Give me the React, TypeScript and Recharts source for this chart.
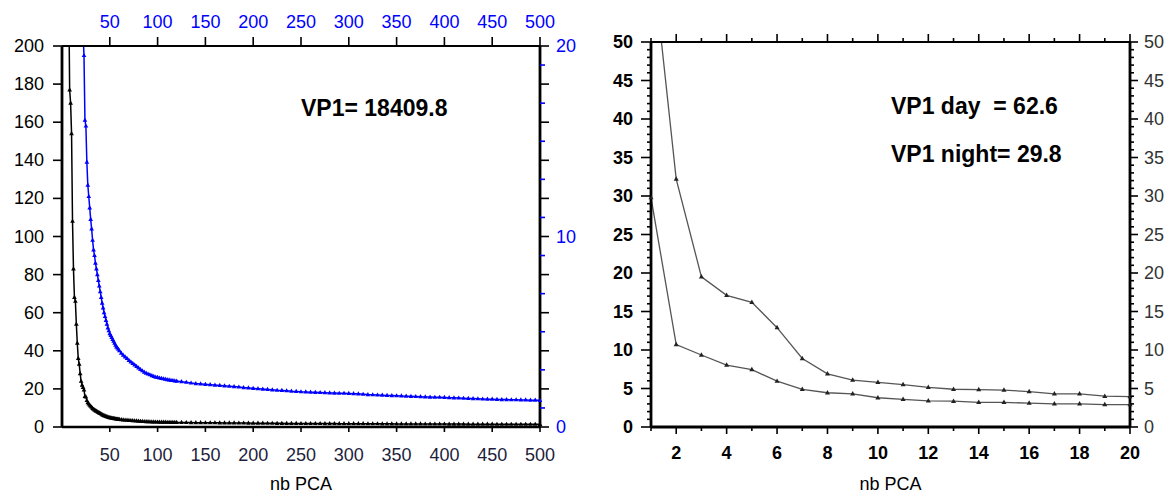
import React from "react";
import { LineChart, Line, XAxis, YAxis } from "recharts";

// Eigenvalue spectrum (VP) against PCA rank
const pcaRank = [
  1, 2, 3, 4, 5, 6, 7, 8, 9, 10, 11, 12, 13, 14, 15, 16, 17, 18, 19, 20,
  21, 22, 23, 24, 25, 26, 27, 28, 29, 30, 31, 32, 33, 34, 35, 36, 37, 38, 39, 40,
  41, 42, 43, 44, 45, 46, 47, 48, 49, 50, 51, 52, 53, 54, 55, 56, 57, 58, 59, 60,
  62, 64, 66, 68, 70, 72, 74, 76, 78, 80, 82, 84, 86, 88, 90, 92, 94, 96, 98, 100,
  102, 104, 106, 108, 110, 112, 114, 116, 118, 120,
  125, 130, 135, 140, 145, 150, 155, 160, 165, 170, 175, 180, 185, 190, 195, 200,
  205, 210, 215, 220, 225, 230, 235, 240, 245, 250, 255, 260, 265, 270, 275, 280,
  285, 290, 295, 300, 305, 310, 315, 320, 325, 330, 335, 340, 345, 350, 355, 360,
  365, 370, 375, 380, 385, 390, 395, 400, 405, 410, 415, 420, 425, 430, 435, 440,
  445, 450, 455, 460, 465, 470, 475, 480, 485, 490, 495, 500,
];

const eigenvalues = [
  18409.8, 2600, 1200, 700, 450, 320, 230, 177, 170, 154, 108, 83, 68, 66, 54, 44, 36, 33, 28, 24,
  22, 20.8, 19.5, 16.1, 15.8, 13.9, 12.7, 12.1, 11.5, 10.9, 10.4, 9.8, 9.3, 9.0, 8.6, 8.3, 8.0, 7.7, 7.4, 7.1,
  6.8, 6.5, 6.25, 6.0, 5.8, 5.6, 5.4, 5.2, 5.05, 4.9, 4.8, 4.7, 4.6, 4.5, 4.4, 4.3, 4.2, 4.15, 4.08, 4.0,
  3.88, 3.77, 3.68, 3.6, 3.5, 3.42, 3.34, 3.26, 3.18, 3.1, 3.02, 2.95, 2.88, 2.83, 2.78, 2.74, 2.7, 2.66, 2.62, 2.6,
  2.57, 2.55, 2.53, 2.51, 2.49, 2.47, 2.45, 2.44, 2.42, 2.41,
  2.38, 2.35, 2.31, 2.28, 2.26, 2.24, 2.22, 2.2, 2.18, 2.16, 2.14, 2.12, 2.1, 2.07, 2.05, 2.03,
  2.01, 1.99, 1.97, 1.95, 1.93, 1.92, 1.9, 1.88, 1.87, 1.85, 1.84, 1.83, 1.82, 1.81, 1.8, 1.79,
  1.78, 1.77, 1.77, 1.76, 1.75, 1.74, 1.72, 1.7, 1.69, 1.68, 1.67, 1.66, 1.65, 1.64, 1.63, 1.62,
  1.61, 1.6, 1.59, 1.58, 1.57, 1.56, 1.56, 1.55, 1.54, 1.53, 1.52, 1.51, 1.5, 1.49, 1.48, 1.47,
  1.46, 1.46, 1.45, 1.44, 1.44, 1.43, 1.43, 1.42, 1.42, 1.41, 1.41, 1.4,
];

// First 20 components, day vs night
const rankShort = [1, 2, 3, 4, 5, 6, 7, 8, 9, 10, 11, 12, 13, 14, 15, 16, 17, 18, 19, 20];
const vpDay = [62.6, 32.2, 19.5, 17.1, 16.2, 12.9, 8.9, 6.9, 6.1, 5.8, 5.5, 5.15, 4.9, 4.85, 4.8, 4.6, 4.3, 4.3, 4.0, 3.95];
const vpNight = [29.8, 10.7, 9.35, 8.05, 7.45, 5.95, 4.9, 4.45, 4.3, 3.8, 3.6, 3.4, 3.35, 3.2, 3.2, 3.1, 3.0, 3.0, 2.9, 2.9];

// Axis ticks
const pcaTicks = [50, 100, 150, 200, 250, 300, 350, 400, 450, 500];
const vpTicks = [0, 20, 40, 60, 80, 100, 120, 140, 160, 180, 200];
const zoomTicks = [0, 1, 2, 3, 4, 5, 6, 7, 8, 9, 10, 11, 12, 13, 14, 15, 16, 17, 18, 19, 20];
const shortVpTicks = Array.from({ length: 51 }, (_, i) => i);

const spectrum = pcaRank.map((n, i) => ({ n, vp: eigenvalues[i] }));
const dayNight = rankShort.map((n, i) => ({ n, day: vpDay[i], night: vpNight[i] }));

const FONT = "'Liberation Sans', Arial, Helvetica, sans-serif";
const BLUE = "#0000ff";

type Side = "left" | "right" | "top" | "bottom";
type TickSpec = {
  side: Side;
  len: (v: number) => number;
  label: (v: number) => string;
  tickColor?: (v: number) => string;
  fill?: string;
  gap: number;
  weight?: string;
  size?: number;
};

// tick line + label drawn from the axis line position (tickSize/tickMargin = 0)
const axisTick = (s: TickSpec) => (props: any) => {
  const { x, y, payload, index } = props;
  const v = payload.value as number;
  const len = s.len(v);
  const text = s.label(v);
  const stroke = s.tickColor ? s.tickColor(v) : "#000";
  let lx1 = x, ly1 = y, lx2 = x, ly2 = y;
  let tx = x, ty = y;
  let anchor: "start" | "middle" | "end" = "middle";
  if (s.side === "left") {
    lx1 = x - len;
    tx = x - len - s.gap;
    anchor = "end";
  } else if (s.side === "right") {
    lx2 = x + len;
    tx = x + len + s.gap;
    anchor = "start";
  } else if (s.side === "top") {
    ly1 = y - len;
    ty = y - len - s.gap;
  } else {
    ly2 = y + len;
    ty = y + len + s.gap;
  }
  return (
    <g key={`t-${index}`}>
      {len > 0 && <line x1={lx1} y1={ly1} x2={lx2} y2={ly2} stroke={stroke} strokeWidth={1.6} />}
      {text !== "" && (
        <text
          x={tx}
          y={ty}
          textAnchor={anchor}
          dominantBaseline="central"
          fill={s.fill ?? "#000"}
          fontFamily={FONT}
          fontSize={s.size ?? 18}
          fontWeight={s.weight ?? "normal"}
        >
          {text}
        </text>
      )}
    </g>
  );
};

const triangle = (color: string, r: number) => (props: any) => {
  const { cx, cy, index } = props;
  if (cx == null || cy == null) return <g key={`d-${index}`} />;
  return (
    <path
      key={`d-${index}`}
      d={`M${cx},${cy - r} L${cx + r * 0.9},${cy + r * 0.6} L${cx - r * 0.9},${cy + r * 0.6} Z`}
      fill={color}
    />
  );
};

const none = () => "";
const str = (v: number) => String(v);

function SpectrumChart() {
  return (
    <LineChart
      width={590}
      height={494}
      data={spectrum}
      margin={{ top: 8, right: 10, bottom: 0, left: 12 }}
    >
      <XAxis
        xAxisId="bottom"
        type="number"
        dataKey="n"
        domain={[0, 500]}
        ticks={pcaTicks}
        interval={0}
        height={67}
        tickSize={0}
        tickMargin={0}
        tickLine={false}
        axisLine={{ stroke: "#000", strokeWidth: 2.6 }}
        tick={axisTick({ side: "bottom", len: () => 5, label: str, gap: 23, fill: "#1e1e3c" })}
        label={{ value: "nb PCA", position: "insideBottom", offset: 4, fill: "#000", fontFamily: FONT, fontSize: 18 }}
      />
      <XAxis
        xAxisId="top"
        orientation="top"
        type="number"
        dataKey="n"
        domain={[0, 500]}
        ticks={pcaTicks}
        interval={0}
        height={38}
        tickSize={0}
        tickMargin={0}
        tickLine={false}
        axisLine={{ stroke: "#000", strokeWidth: 2 }}
        tick={axisTick({ side: "top", len: () => 9, label: str, gap: 15, fill: BLUE })}
      />
      <YAxis
        yAxisId="left"
        domain={[0, 200]}
        allowDataOverflow
        ticks={vpTicks}
        interval={0}
        width={50}
        tickSize={0}
        tickMargin={0}
        tickLine={false}
        axisLine={{ stroke: "#000", strokeWidth: 2.8 }}
        tick={axisTick({ side: "left", len: () => 9, label: str, gap: 9 })}
      />
      <YAxis
        yAxisId="right"
        orientation="right"
        domain={[0, 20]}
        allowDataOverflow
        ticks={zoomTicks}
        interval={0}
        width={40}
        tickSize={0}
        tickMargin={0}
        tickLine={false}
        axisLine={{ stroke: "#000", strokeWidth: 2.8 }}
        tick={axisTick({
          side: "right",
          len: (v) => (v % 2 === 0 ? 9 : 5),
          tickColor: (v) => (v % 2 === 0 ? "#000" : BLUE),
          label: (v) => (v % 10 === 0 ? String(v) : ""),
          gap: 7,
          fill: BLUE,
        })}
      />
      <Line
        xAxisId="top"
        yAxisId="right"
        dataKey="vp"
        stroke={BLUE}
        strokeWidth={1.5}
        dot={triangle(BLUE, 2.6)}
        activeDot={false}
        isAnimationActive={false}
      />
      <Line
        xAxisId="bottom"
        yAxisId="left"
        dataKey="vp"
        stroke="#000"
        strokeWidth={1.5}
        dot={triangle("#000", 2.6)}
        activeDot={false}
        isAnimationActive={false}
      />
    </LineChart>
  );
}

function DayNightChart() {
  return (
    <LineChart
      width={581}
      height={494}
      data={dayNight}
      margin={{ top: 8, right: 0, bottom: 0, left: 11 }}
    >
      <XAxis
        xAxisId="bottom"
        type="number"
        dataKey="n"
        domain={[1, 20]}
        ticks={rankShort}
        interval={0}
        height={67}
        tickSize={0}
        tickMargin={0}
        tickLine={false}
        axisLine={{ stroke: "#000", strokeWidth: 2.8 }}
        tick={axisTick({
          side: "bottom",
          len: (v) => (v % 2 === 0 ? 7 : 4),
          label: (v) => (v % 2 === 0 ? String(v) : ""),
          gap: 19,
          weight: "bold",
        })}
        label={{ value: "nb PCA", position: "insideBottom", offset: 4, fill: "#000", fontFamily: FONT, fontSize: 18 }}
      />
      <XAxis
        xAxisId="top"
        orientation="top"
        type="number"
        dataKey="n"
        domain={[1, 20]}
        ticks={rankShort}
        interval={0}
        height={34}
        tickSize={0}
        tickMargin={0}
        tickLine={false}
        axisLine={{ stroke: "#000", strokeWidth: 2.2 }}
        tick={axisTick({ side: "top", len: (v) => (v % 2 === 0 ? 8 : 4), label: none, gap: 0 })}
      />
      <YAxis
        yAxisId="left"
        domain={[0, 50]}
        allowDataOverflow
        ticks={shortVpTicks}
        interval={0}
        width={50}
        tickSize={0}
        tickMargin={0}
        tickLine={false}
        axisLine={{ stroke: "#000", strokeWidth: 2.8 }}
        tick={axisTick({
          side: "left",
          len: (v) => (v % 5 === 0 ? 10 : 4),
          label: (v) => (v % 5 === 0 ? String(v) : ""),
          gap: 8,
          weight: "bold",
        })}
      />
      <YAxis
        yAxisId="right"
        orientation="right"
        domain={[0, 50]}
        allowDataOverflow
        ticks={shortVpTicks}
        interval={0}
        width={41}
        tickSize={0}
        tickMargin={0}
        tickLine={false}
        axisLine={{ stroke: "#000", strokeWidth: 2.8 }}
        tick={axisTick({
          side: "right",
          len: (v) => (v % 5 === 0 ? 8 : 4),
          label: (v) => (v % 5 === 0 ? String(v) : ""),
          gap: 6,
          fill: "#333",
        })}
      />
      <Line
        xAxisId="bottom"
        yAxisId="left"
        dataKey="day"
        stroke="#555"
        strokeWidth={1.3}
        dot={triangle("#222", 2.8)}
        activeDot={false}
        isAnimationActive={false}
      />
      <Line
        xAxisId="bottom"
        yAxisId="left"
        dataKey="night"
        stroke="#555"
        strokeWidth={1.3}
        dot={triangle("#222", 2.8)}
        activeDot={false}
        isAnimationActive={false}
      />
    </LineChart>
  );
}

const note: React.CSSProperties = {
  position: "absolute",
  fontFamily: FONT,
  fontWeight: "bold",
  fontSize: 23,
  lineHeight: "23px",
  whiteSpace: "pre",
  color: "#000",
};

export default function App() {
  return (
    <div style={{ position: "absolute", left: 0, top: 0, width: 1171, height: 494, background: "#fff" }}>
      <div style={{ position: "absolute", left: 0, top: 0 }}>
        <SpectrumChart />
      </div>
      <div style={{ position: "absolute", left: 590, top: 0 }}>
        <DayNightChart />
      </div>
      <div style={{ ...note, left: 301, top: 97 }}>VP1= 18409.8</div>
      <div style={{ ...note, left: 891, top: 95 }}>VP1 day  = 62.6</div>
      <div style={{ ...note, left: 891, top: 143 }}>VP1 night= 29.8</div>
    </div>
  );
}
